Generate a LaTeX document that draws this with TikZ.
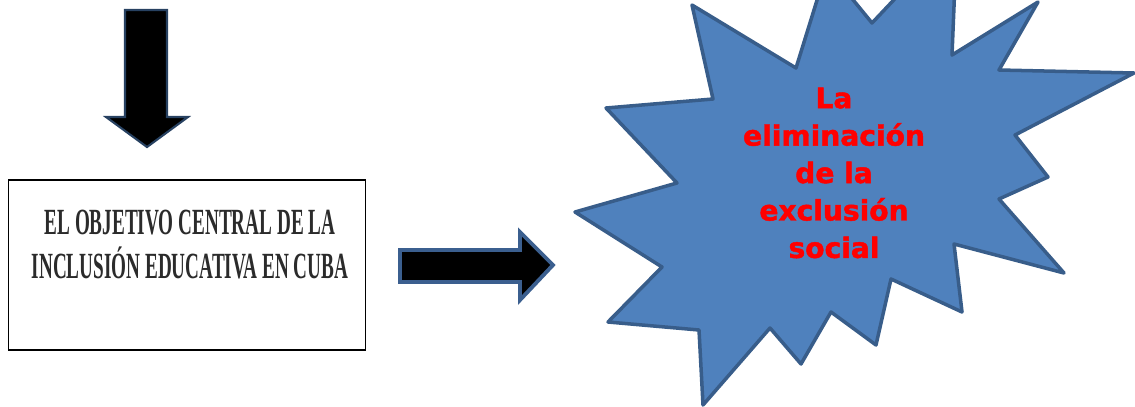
\documentclass[tikz,border=0pt]{standalone}
\usepackage{fontspec}
\setmainfont{Liberation Serif}
\newfontfamily\starfont[BoldFeatures={FakeBold=1.6}]{DejaVu Sans}
\usetikzlibrary{positioning}
\definecolor{starfill}{HTML}{4F81BD}
\definecolor{starline}{HTML}{385D8A}
\definecolor{arrowline}{HTML}{3B5F8F}
\definecolor{boxtext}{HTML}{2B2B2B}
\begin{document}
\begin{tikzpicture}[x=0.02cm,y=-0.02cm]
	\tikzstyle{blockarrow}=[fill=black,draw=arrowline,line width=2.2pt,line join=miter]
	\tikzstyle{burst}=[fill=starfill,draw=starline,line width=2pt,line join=round]
	\useasboundingbox (0,0) rectangle (1135,406);
	\clip (0,0) rectangle (1135,406);
	% flecha hacia abajo
	\draw [blockarrow,line width=1.2pt,draw=starline!70!black] (125,10) -- (167,10) -- (167,117) -- (188,117) -- (147,147) -- (106,117) -- (125,117) -- cycle;
	% recuadro del objetivo
	\node [draw=black,line width=0.8pt,minimum width=357*0.02cm,minimum height=170*0.02cm] (objetivo) at (187,265) {};
	\node [text=boxtext,align=center,font=\bfseries\fontsize{21}{25}\selectfont] (objtext) at (190,245)
		{\scalebox{0.52}[1]{EL OBJETIVO CENTRAL DE LA}\\ \scalebox{0.52}[1]{INCLUSIÓN EDUCATIVA EN CUBA}};
	% flecha hacia la derecha
	\draw [blockarrow] (400,250) -- (520,250) -- (520,232) -- (553,265) -- (520,300) -- (520,282) -- (400,282) -- cycle;
	% estrella
	\draw [burst] (692,5) -- (796,68) -- (827,-32) -- (872,23) -- (957,-67) -- (952,55) -- (1038,2)
		-- (999,70) -- (1134,73) -- (1015,135) -- (1048,177) -- (999,199) -- (1064,273)
		-- (954,244) -- (962,312) -- (891,279) -- (876,345) -- (831,312) -- (801,364)
		-- (770,328) -- (703,405) -- (699,330) -- (608,322) -- (662,267) -- (575,212)
		-- (677,183) -- (606,108) -- (713,99) -- cycle;
	\node [text=red,align=center,font=\starfont\bfseries\fontsize{16}{21.3}\selectfont] (exclusion) at (834,173)
		{La\\ eliminación\\ de la\\ exclusión\\ social};
\end{tikzpicture}
\end{document}
